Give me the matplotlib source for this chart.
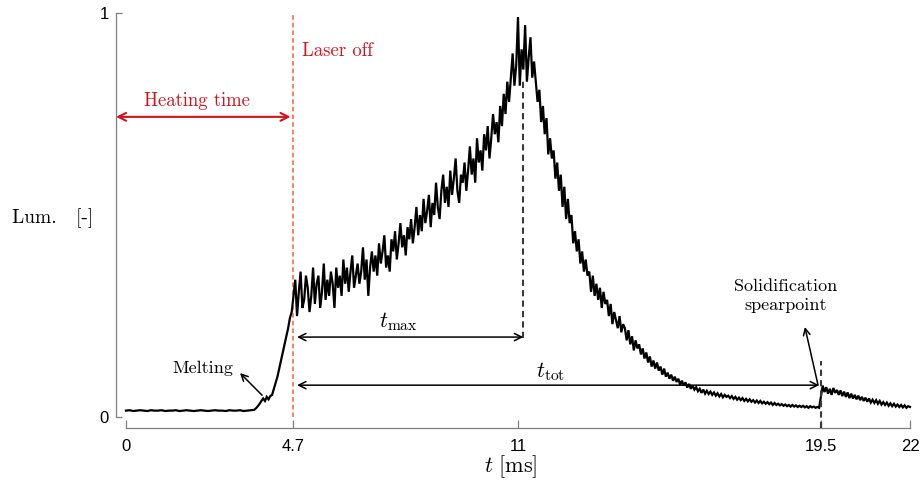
import numpy as np
import matplotlib
matplotlib.use("Agg")
import matplotlib.pyplot as plt

plt.rcParams['mathtext.fontset'] = 'cm'

# ---------------- data ----------------
# baseline before heating, every 0.1 ms from 0 to 3.5 ms
lum_base = [0.016, 0.017, 0.015, 0.016, 0.017, 0.016, 0.015, 0.017, 0.016, 0.016,
            0.017, 0.015, 0.016, 0.016, 0.017, 0.015, 0.016, 0.017, 0.016, 0.015,
            0.016, 0.017, 0.016, 0.015, 0.016, 0.017, 0.016, 0.016, 0.015, 0.017,
            0.016, 0.016, 0.017, 0.015, 0.016, 0.017]
# melting / steep rise, every 0.05 ms from 3.60 to 4.70 ms
lum_rise = [0.018, 0.022, 0.027, 0.033, 0.040, 0.046, 0.040, 0.050, 0.044, 0.052,
            0.055, 0.070, 0.085, 0.100, 0.120, 0.140, 0.160, 0.180, 0.200, 0.220,
            0.245, 0.260, 0.300]
# noisy main signal, every 0.05 ms from 4.75 to 19.45 ms
lum_main = [0.34, 0.25, 0.31, 0.36, 0.27,
            0.29, 0.35, 0.32, 0.26, 0.30, 0.37, 0.28, 0.33, 0.35, 0.27,
            0.31, 0.38, 0.29, 0.34, 0.30, 0.36, 0.33, 0.27, 0.37, 0.32,
            0.35, 0.30, 0.39, 0.33, 0.37, 0.31, 0.36, 0.40, 0.32, 0.35,
            0.38, 0.33, 0.36, 0.42, 0.34, 0.39, 0.30, 0.37, 0.41, 0.36,
            0.40, 0.35, 0.43, 0.38, 0.41, 0.45, 0.37, 0.40, 0.36, 0.44,
            0.41, 0.46, 0.39, 0.43, 0.48, 0.42, 0.45, 0.40, 0.47, 0.44,
            0.49, 0.43, 0.47, 0.52, 0.45, 0.50, 0.46, 0.54, 0.48, 0.51,
            0.55, 0.47, 0.53, 0.50, 0.58, 0.52, 0.49, 0.56, 0.60, 0.53,
            0.57, 0.52, 0.61, 0.55, 0.59, 0.64, 0.56, 0.53, 0.60, 0.58,
            0.63, 0.56, 0.61, 0.67, 0.60, 0.64, 0.58, 0.69, 0.63, 0.66,
            0.61, 0.70, 0.66, 0.72, 0.64, 0.69, 0.75, 0.70, 0.73, 0.68,
            0.77, 0.72, 0.80, 0.75, 0.83, 0.78, 0.84, 0.90, 0.82, 0.87,
            0.99, 0.82, 0.91, 0.86, 0.97, 0.83, 0.89, 0.94, 0.84, 0.88,
            0.83, 0.78, 0.81, 0.73, 0.77, 0.70, 0.74, 0.65, 0.69, 0.64,
            0.66, 0.59, 0.63, 0.56, 0.60, 0.52, 0.57, 0.49, 0.54, 0.48,
            0.50, 0.43, 0.46, 0.41, 0.44, 0.38, 0.41, 0.36, 0.39, 0.35,
            0.36, 0.31, 0.35, 0.30, 0.33, 0.29, 0.32, 0.27, 0.31, 0.28,
            0.29, 0.25, 0.28, 0.23, 0.26, 0.24, 0.22, 0.25, 0.21, 0.23,
            0.22, 0.19, 0.215, 0.18, 0.20, 0.165, 0.19, 0.17, 0.18, 0.155,
            0.17, 0.145, 0.16, 0.135, 0.15, 0.125, 0.14, 0.12, 0.135, 0.115,
            0.125, 0.105, 0.12, 0.10, 0.11, 0.095, 0.105, 0.09, 0.10, 0.087,
            0.095, 0.08, 0.09, 0.078, 0.086, 0.073, 0.082, 0.07, 0.078, 0.068,
            0.074, 0.064, 0.07, 0.06, 0.068, 0.058, 0.065, 0.057, 0.063, 0.055,
            0.061, 0.053, 0.059, 0.051, 0.057, 0.049, 0.055, 0.05, 0.053, 0.047,
            0.052, 0.045, 0.05, 0.043, 0.048, 0.042, 0.047, 0.04, 0.045, 0.039,
            0.044, 0.038, 0.042, 0.036, 0.041, 0.035, 0.04, 0.034, 0.038, 0.033,
            0.037, 0.032, 0.036, 0.03, 0.035, 0.03, 0.033, 0.029, 0.032, 0.028,
            0.031, 0.027, 0.03, 0.026, 0.03, 0.026, 0.029, 0.025, 0.028, 0.025,
            0.028, 0.024, 0.027, 0.023, 0.027, 0.024, 0.026, 0.023, 0.025, 0.023]
# after solidification spearpoint, every 0.05 ms from 19.50 to 22.00 ms
lum_tail = [0.05, 0.078, 0.062, 0.074, 0.058, 0.07, 0.055, 0.072, 0.06, 0.067,
            0.055, 0.066, 0.052, 0.063, 0.05, 0.061, 0.047, 0.058, 0.046, 0.055,
            0.044, 0.053, 0.042, 0.05, 0.04, 0.048, 0.038, 0.046, 0.036, 0.043,
            0.035, 0.042, 0.033, 0.04, 0.031, 0.037, 0.03, 0.036, 0.028, 0.034,
            0.027, 0.033, 0.026, 0.031, 0.025, 0.03, 0.024, 0.029, 0.023, 0.027,
            0.025]

x_ticks = [0, 4.7, 11, 19.5, 22]
x_tick_labels = ['0', '4.7', '11', '19.5', '22']
y_ticks = [0, 1]
y_tick_labels = ['0', '1']

t_laser_off = 4.7
t_max = 11.15
t_tot_end = 19.45
t_solid = 19.5

# time grids
t_base = 0.0 + 0.1 * np.arange(len(lum_base))
t_rise = 3.6 + 0.05 * np.arange(len(lum_rise))
t_main = 4.75 + 0.05 * np.arange(len(lum_main))
t_tail = 19.5 + 0.05 * np.arange(len(lum_tail))
t_all = np.concatenate([t_base, t_rise, t_main, t_tail])
lum_all = np.concatenate([lum_base, lum_rise, lum_main, lum_tail])

# ---------------- figure ----------------
W, H = 921, 486
fig = plt.figure(figsize=(W / 100, H / 100), dpi=100)
ax = fig.add_axes([116 / W, (H - 428) / H, (910 - 116) / W, (428 - 13) / H])
ax.set_xlim(-0.28, 22)
ax.set_ylim(-0.027, 1.0)

ax.plot(t_all, lum_all, color='black', lw=1.6, clip_on=False, zorder=3,
        solid_joinstyle='miter')

spine_col = '#7f7f7f'
for s in ['top', 'right']:
    ax.spines[s].set_visible(False)
ax.spines['left'].set_bounds(0, 1)
ax.spines['bottom'].set_bounds(0, 22)
for s in ['left', 'bottom']:
    ax.spines[s].set_color(spine_col)
    ax.spines[s].set_linewidth(0.9)

ax.set_xticks(x_ticks)
ax.set_xticklabels(x_tick_labels, fontfamily='Liberation Sans', fontsize=12)
ax.set_yticks(y_ticks)
ax.set_yticklabels(y_tick_labels, fontfamily='Liberation Sans', fontsize=12)
ax.tick_params(axis='x', direction='in', length=6, width=0.9, color=spine_col, pad=8)
ax.tick_params(axis='y', direction='in', length=4, width=0.9, color=spine_col, pad=5)

serif = 'cmr10'
red = '#d0141e'

# Laser off line
ax.plot([t_laser_off, t_laser_off], [0, 1.0], color='#f4603c', lw=1.1,
        dashes=(3, 2), zorder=2)
ax.text(4.94, 0.905, 'Laser off', color=red, fontfamily=serif, fontsize=13.5,
        ha='left', va='center')

# Heating time arrow
ax.annotate('', xy=(-0.28, 0.743), xytext=(4.62, 0.743),
            arrowprops=dict(arrowstyle='<->', color=red, lw=1.5,
                            shrinkA=0, shrinkB=0, mutation_scale=14),
            annotation_clip=False)
ax.text(2.0, 0.783, 'Heating time', color=red, fontfamily=serif, fontsize=13.5,
        ha='center', va='center')

# dashed markers
ax.plot([t_max, t_max], [0.195, 0.835], color='#3a3a3a', lw=1.5,
        dashes=(3, 2), zorder=4)
ax.plot([t_solid, t_solid], [-0.027, 0.14], color='#3a3a3a', lw=1.5,
        dashes=(3, 2), zorder=4, clip_on=False)

# t_max and t_tot arrows
ax.annotate('', xy=(4.8, 0.198), xytext=(t_max, 0.198),
            arrowprops=dict(arrowstyle='<->', color='black', lw=1.1,
                            shrinkA=0, shrinkB=0, mutation_scale=13))
ax.text(7.63, 0.237, r'$t_{\mathrm{max}}$', fontsize=16, ha='center', va='center')

ax.annotate('', xy=(4.8, 0.079), xytext=(t_tot_end, 0.079),
            arrowprops=dict(arrowstyle='<->', color='black', lw=1.1,
                            shrinkA=0, shrinkB=0, mutation_scale=13))
ax.text(11.9, 0.113, r'$t_{\mathrm{tot}}$', fontsize=16, ha='center', va='center')

# Melting
ax.annotate('', xy=(3.2, 0.109), xytext=(3.82, 0.054),
            arrowprops=dict(arrowstyle='->', color='black', lw=1.1,
                            shrinkA=0, shrinkB=0, mutation_scale=12))
ax.text(2.16, 0.121, 'Melting', fontfamily=serif, fontsize=13, ha='center', va='center')

# Solidification spearpoint
ax.annotate('', xy=(19.05, 0.223), xytext=(19.42, 0.079),
            arrowprops=dict(arrowstyle='->', color='black', lw=1.1,
                            shrinkA=0, shrinkB=0, mutation_scale=12))
ax.text(18.5, 0.30, 'Solidification\nspearpoint', fontfamily=serif, fontsize=13,
        ha='center', va='center', linespacing=1.25)

# axis labels
fig.text(12 / W, 1 - 218 / H, 'Lum.   [-]', fontfamily=serif, fontsize=14,
         ha='left', va='center')
fig.text(511 / W, 1 - 467 / H, r'$t\ [\mathrm{ms}]$', fontsize=16,
         ha='center', va='center')

fig.savefig('out.png', dpi=100)
